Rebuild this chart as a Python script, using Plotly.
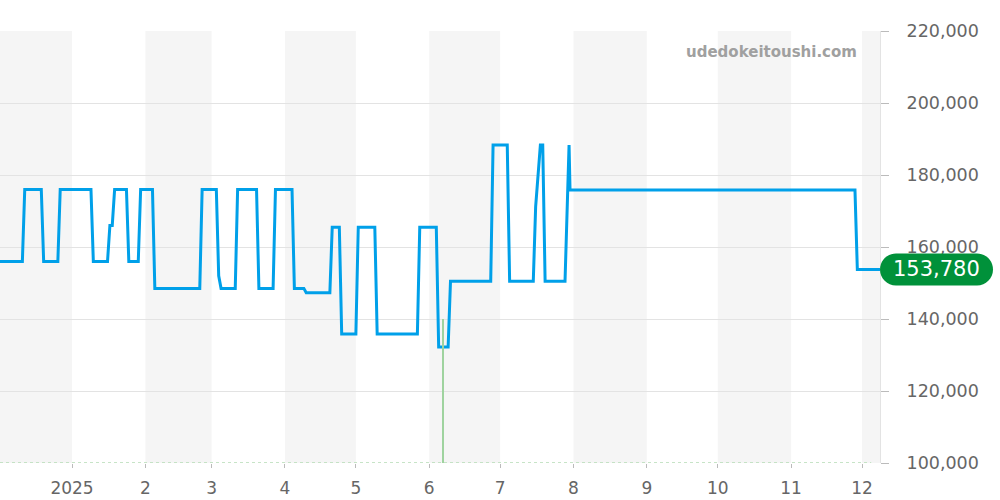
import plotly.graph_objects as go

# ---- price series (breakpoints) ----
price_dates = [
    "2024-12-01", "2024-12-11", "2024-12-12", "2024-12-19", "2024-12-20",
    "2024-12-26", "2024-12-27", "2025-01-09", "2025-01-10", "2025-01-16",
    "2025-01-17", "2025-01-18", "2025-01-19", "2025-01-24", "2025-01-25",
    "2025-01-29", "2025-01-30", "2025-02-04", "2025-02-05", "2025-02-24",
    "2025-02-25", "2025-03-03", "2025-03-04", "2025-03-05", "2025-03-11",
    "2025-03-12", "2025-03-20", "2025-03-21", "2025-03-27", "2025-03-28",
    "2025-04-04", "2025-04-05", "2025-04-09", "2025-04-10", "2025-04-20",
    "2025-04-21", "2025-04-24", "2025-04-25", "2025-05-01", "2025-05-02",
    "2025-05-09", "2025-05-10", "2025-05-27", "2025-05-28", "2025-06-04",
    "2025-06-05", "2025-06-09", "2025-06-10", "2025-06-27", "2025-06-28",
    "2025-07-04", "2025-07-05", "2025-07-15", "2025-07-16", "2025-07-18",
    "2025-07-19", "2025-07-20", "2025-07-28 10:00", "2025-07-30 03:00",
    "2025-07-30 13:00", "2025-11-28", "2025-11-29", "2025-12-08 14:00",
]
price_values = [
    156000, 156000, 176000, 176000, 156000,
    156000, 176000, 176000, 156000, 156000,
    166000, 166000, 176000, 176000, 156000,
    156000, 176000, 176000, 148500, 148500,
    176000, 176000, 152000, 148500, 148500,
    176000, 176000, 148500, 148500, 176000,
    176000, 148500, 148500, 147300, 147300,
    165500, 165500, 135800, 135800, 165500,
    165500, 135800, 135800, 165500, 165500,
    132200, 132200, 150500, 150500, 188300,
    188300, 150500, 150500, 171200, 188300,
    188300, 150500, 150500, 188300,
    175800, 175800, 153780, 153780,
]
last_price = 153780

# ---- volume series ----
vol_dates = ["2025-06-07"]
vol_values = [1]

# ---- axes ----
month_ticks = ["2025-01-01", "2025-02-01", "2025-03-01", "2025-04-01", "2025-05-01",
               "2025-06-01", "2025-07-01", "2025-08-01", "2025-09-01", "2025-10-01",
               "2025-11-01", "2025-12-01"]
month_labels = ["2025", "2", "3", "4", "5", "6", "7", "8", "9", "10", "11", "12"]
band_starts = ["2024-12-01", "2025-02-01", "2025-04-01", "2025-06-01", "2025-08-01",
               "2025-10-01", "2025-12-01"]
band_ends = ["2025-01-01", "2025-03-01", "2025-05-01", "2025-07-01", "2025-09-01",
             "2025-11-01", "2026-01-01"]
x_range = ["2024-12-01 13:00", "2025-12-08 14:00"]
y_range = [100000, 220000]

FONT = "DejaVu Sans"
fig = go.Figure()

fig.add_trace(go.Bar(
    x=vol_dates, y=vol_values, yaxis="y2",
    marker=dict(color="#9fd39f", line=dict(width=0)),
    width=55e6, showlegend=False, hoverinfo="skip",
))
fig.add_trace(go.Scatter(
    x=price_dates, y=price_values, mode="lines",
    line=dict(color="#00a0e9", width=3), showlegend=False,
))

shapes = []
for s, e in zip(band_starts, band_ends):
    shapes.append(dict(type="rect", xref="x", yref="paper", x0=s, x1=e, y0=0, y1=1,
                       fillcolor="#f5f5f5", line=dict(width=0), layer="below"))
# dotted volume baseline
shapes.append(dict(type="line", xref="paper", yref="y", x0=0, x1=0.99,
                   y0=100000, y1=100000, line=dict(color="#b5dcb5", width=1.5, dash="dot"),
                   layer="above"))
# pill badge for last price
r = 16
k = 8.84
w = 113
path = (f"M {r},{-r} L {w-r},{-r} C {w-r+k},{-r} {w},{-k} {w},0 "
        f"C {w},{k} {w-r+k},{r} {w-r},{r} L {r},{r} "
        f"C {r-k},{r} 0,{k} 0,0 C 0,{-k} {r-k},{-r} {r},{-r} Z")
shapes.append(dict(type="path", xref="paper", yref="y", xsizemode="pixel", ysizemode="pixel",
                   xanchor=1, yanchor=last_price, path=path,
                   fillcolor="#00913a", line=dict(width=0), layer="above"))

annotations = [
    dict(x=1, xref="paper", y=last_price, yref="y", xanchor="center", xshift=w/2,
         text=f"{last_price:,}", showarrow=False,
         font=dict(family=FONT, size=21, color="white")),
    dict(x=859/880, xref="paper", y=214200, yref="y", xanchor="right",
         text="<b>udedokeitoushi.com</b>", showarrow=False,
         font=dict(family=FONT, size=15, color="#a0a0a0")),
]

fig.update_layout(
    width=1000, height=500,
    margin=dict(l=0, r=120, t=31, b=37),
    paper_bgcolor="white", plot_bgcolor="white",
    font=dict(family=FONT, color="#666666"),
    shapes=shapes, annotations=annotations,
    bargap=0,
    xaxis=dict(
        type="date", range=x_range, tickvals=month_ticks, ticktext=month_labels,
        showgrid=False, zeroline=False, showline=False,
        ticks="outside", ticklen=4, tickcolor="#bbbbbb", ticklabelstandoff=6,
        tickfont=dict(family=FONT, size=17, color="#666666"),
    ),
    yaxis=dict(
        side="right", range=y_range, dtick=20000, tickformat=",",
        showgrid=True, gridcolor="#e3e3e3", gridwidth=1, zeroline=False,
        showline=True, linecolor="#e3e3e3",
        ticks="outside", ticklen=8, tickcolor="#bbbbbb", ticklabelstandoff=14,
        tickfont=dict(family=FONT, size=17.5, color="#666666"),
    ),
    yaxis2=dict(overlaying="y", range=[0, 3], visible=False),
)

fig.write_html("out.html", config={"displayModeBar": False},
               post_script="document.body.style.margin='0';")
